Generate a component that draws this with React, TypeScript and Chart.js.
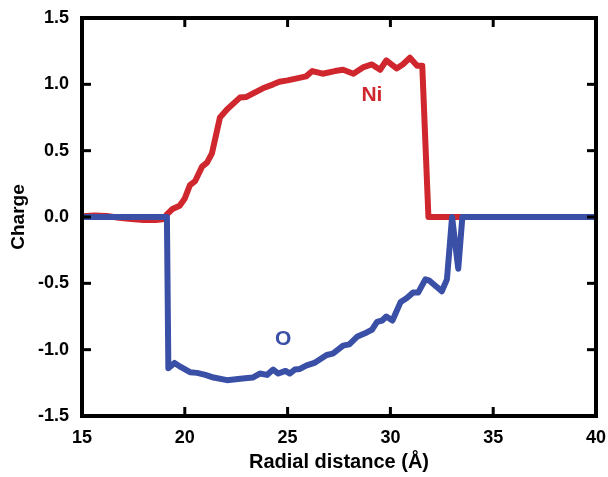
import React, { useEffect, useRef } from "react";
import { Chart, registerables } from "chart.js";

Chart.register(...registerables);

// ---- Data ----
const niX = [15, 15.6, 16.2, 16.8, 17.4, 18, 18.6, 19.0, 19.13, 19.4, 19.75, 20.0, 20.25, 20.5, 20.84, 21.08, 21.32, 21.71, 22.05, 22.4, 22.68, 23.0, 23.3, 23.8, 24.3, 24.6, 25.0, 25.45, 25.9, 26.2, 26.7, 27.3, 27.7, 28.2, 28.7, 29.1, 29.5, 29.8, 30.3, 30.6, 30.95, 31.3, 31.55, 31.85, 40];
const niY = [0.005, 0.012, 0.008, -0.005, -0.015, -0.022, -0.022, -0.015, 0.02, 0.06, 0.085, 0.14, 0.24, 0.27, 0.38, 0.41, 0.48, 0.75, 0.81, 0.86, 0.9, 0.905, 0.93, 0.97, 1.0, 1.02, 1.03, 1.045, 1.06, 1.1, 1.08, 1.1, 1.11, 1.08, 1.13, 1.15, 1.11, 1.18, 1.12, 1.15, 1.2, 1.14, 1.14, 0.0, 0.0];

const oX = [15, 19.13, 19.2, 19.5, 19.8, 20.25, 20.6, 21.0, 21.4, 22.05, 22.7, 23.3, 23.65, 24.0, 24.3, 24.55, 24.9, 25.1, 25.35, 25.6, 25.9, 26.3, 26.9, 27.2, 27.7, 28.0, 28.4, 28.85, 29.1, 29.35, 29.6, 29.8, 30.1, 30.5, 30.8, 31.1, 31.35, 31.7, 31.9, 32.2, 32.5, 32.75, 33.0, 33.3, 33.5, 40];
const oY = [0, 0, -1.14, -1.1, -1.13, -1.17, -1.175, -1.19, -1.21, -1.23, -1.22, -1.21, -1.18, -1.19, -1.15, -1.18, -1.16, -1.18, -1.15, -1.145, -1.12, -1.1, -1.04, -1.03, -0.97, -0.96, -0.9, -0.87, -0.85, -0.79, -0.78, -0.75, -0.78, -0.64, -0.61, -0.57, -0.57, -0.47, -0.48, -0.52, -0.56, -0.47, 0.0, -0.39, 0.0, 0.0];

const seriesNames = ["O", "Ni"];
const labelX = [24.78, 29.1];
const labelY = [-0.92, 0.92];

const xTitle = "Radial distance (Å)";
const yTitle = "Charge";
const xMin = 15, xMax = 40, xStep = 5;
const yMin = -1.5, yMax = 1.5, yStep = 0.5;

const RED = "#cf272d";
const BLUE = "#3a4fa6";
const FONT = "'Liberation Sans', Arial, Helvetica, sans-serif";

const framePlugin = {
  id: "frame",
  afterDatasetsDraw(chart: any) {
    const { ctx, chartArea } = chart;
    const { left, right, top, bottom } = chartArea;
    const xs = chart.scales.x;
    const ys = chart.scales.y;
    const TL = 9;
    ctx.save();
    ctx.strokeStyle = "#000";
    ctx.lineWidth = 3;
    ctx.lineCap = "butt";
    const line = (a: number, b: number, c: number, d: number) => {
      ctx.beginPath();
      ctx.moveTo(a, b);
      ctx.lineTo(c, d);
      ctx.stroke();
    };
    xs.ticks.forEach((t: any) => {
      const px = xs.getPixelForValue(t.value);
      if (px <= left + 2 || px >= right - 2) return;
      line(px, bottom, px, bottom - TL);
      line(px, top, px, top + TL);
    });
    ys.ticks.forEach((t: any) => {
      const py = ys.getPixelForValue(t.value);
      if (py <= top + 2 || py >= bottom - 2) return;
      line(left, py, left + TL, py);
      line(right, py, right - TL, py);
    });
    ctx.lineWidth = 4;
    ctx.strokeRect(left, top, right - left, bottom - top);

    // series labels
    ctx.font = `bold 21px ${FONT}`;
    ctx.textAlign = "center";
    ctx.textBaseline = "middle";
    const cols = [BLUE, RED];
    seriesNames.forEach((n, i) => {
      ctx.fillStyle = cols[i];
      ctx.fillText(n, xs.getPixelForValue(labelX[i]), ys.getPixelForValue(labelY[i]));
    });
    ctx.restore();
  },
};

export default function App() {
  const ref = useRef<HTMLCanvasElement | null>(null);
  useEffect(() => {
    if (!ref.current) return;
    const chart = new Chart(ref.current, {
      type: "line",
      data: {
        datasets: [
          {
            label: "O",
            data: oX.map((x, i) => ({ x, y: oY[i] })),
            borderColor: BLUE,
            borderWidth: 6,
            pointRadius: 0,
            tension: 0,
            borderJoinStyle: "round",
            borderCapStyle: "round",
            fill: false,
          },
          {
            label: "Ni",
            data: niX.map((x, i) => ({ x, y: niY[i] })),
            borderColor: RED,
            borderWidth: 6,
            pointRadius: 0,
            tension: 0,
            borderJoinStyle: "round",
            borderCapStyle: "round",
            fill: false,
          },
        ],
      },
      options: {
        responsive: false,
        animation: false,
        layout: { padding: { top: 18, right: 12, left: 0, bottom: 0 } },
        plugins: {
          legend: { display: false },
          tooltip: { enabled: false },
        },
        scales: {
          x: {
            type: "linear",
            min: xMin,
            max: xMax,
            afterFit: (s: any) => {
              s.height = 61;
              s.paddingLeft = 0;
              s.paddingRight = 0;
            },
            ticks: {
              stepSize: xStep,
              color: "#000",
              padding: 11,
              maxRotation: 0,
              font: { family: FONT, size: 18, weight: "bold" },
              callback: (v: any) => String(v),
            },
            grid: { display: false, drawTicks: false },
            border: { display: false },
            title: {
              display: true,
              text: xTitle,
              color: "#000",
              font: { family: FONT, size: 20, weight: "bold" },
              padding: { top: 0, bottom: 3 },
            },
          },
          y: {
            type: "linear",
            min: yMin,
            max: yMax,
            afterFit: (s: any) => {
              s.width = 82;
              s.paddingTop = 0;
              s.paddingBottom = 0;
            },
            ticks: {
              stepSize: yStep,
              color: "#000",
              padding: 13,
              font: { family: FONT, size: 18, weight: "bold" },
              callback: (v: any) => Number(v).toFixed(1),
            },
            grid: { display: false, drawTicks: false },
            border: { display: false },
            title: {
              display: true,
              text: yTitle,
              color: "#000",
              font: { family: FONT, size: 19, weight: "bold" },
              padding: { top: 7, bottom: 0 },
            },
          },
        },
      },
      plugins: [framePlugin],
    } as any);
    return () => chart.destroy();
  }, []);
  return (
    <div style={{ position: "absolute", left: 0, top: 0, width: 608, height: 477, background: "#fff" }}>
      <canvas ref={ref} width={608} height={477} />
    </div>
  );
}
